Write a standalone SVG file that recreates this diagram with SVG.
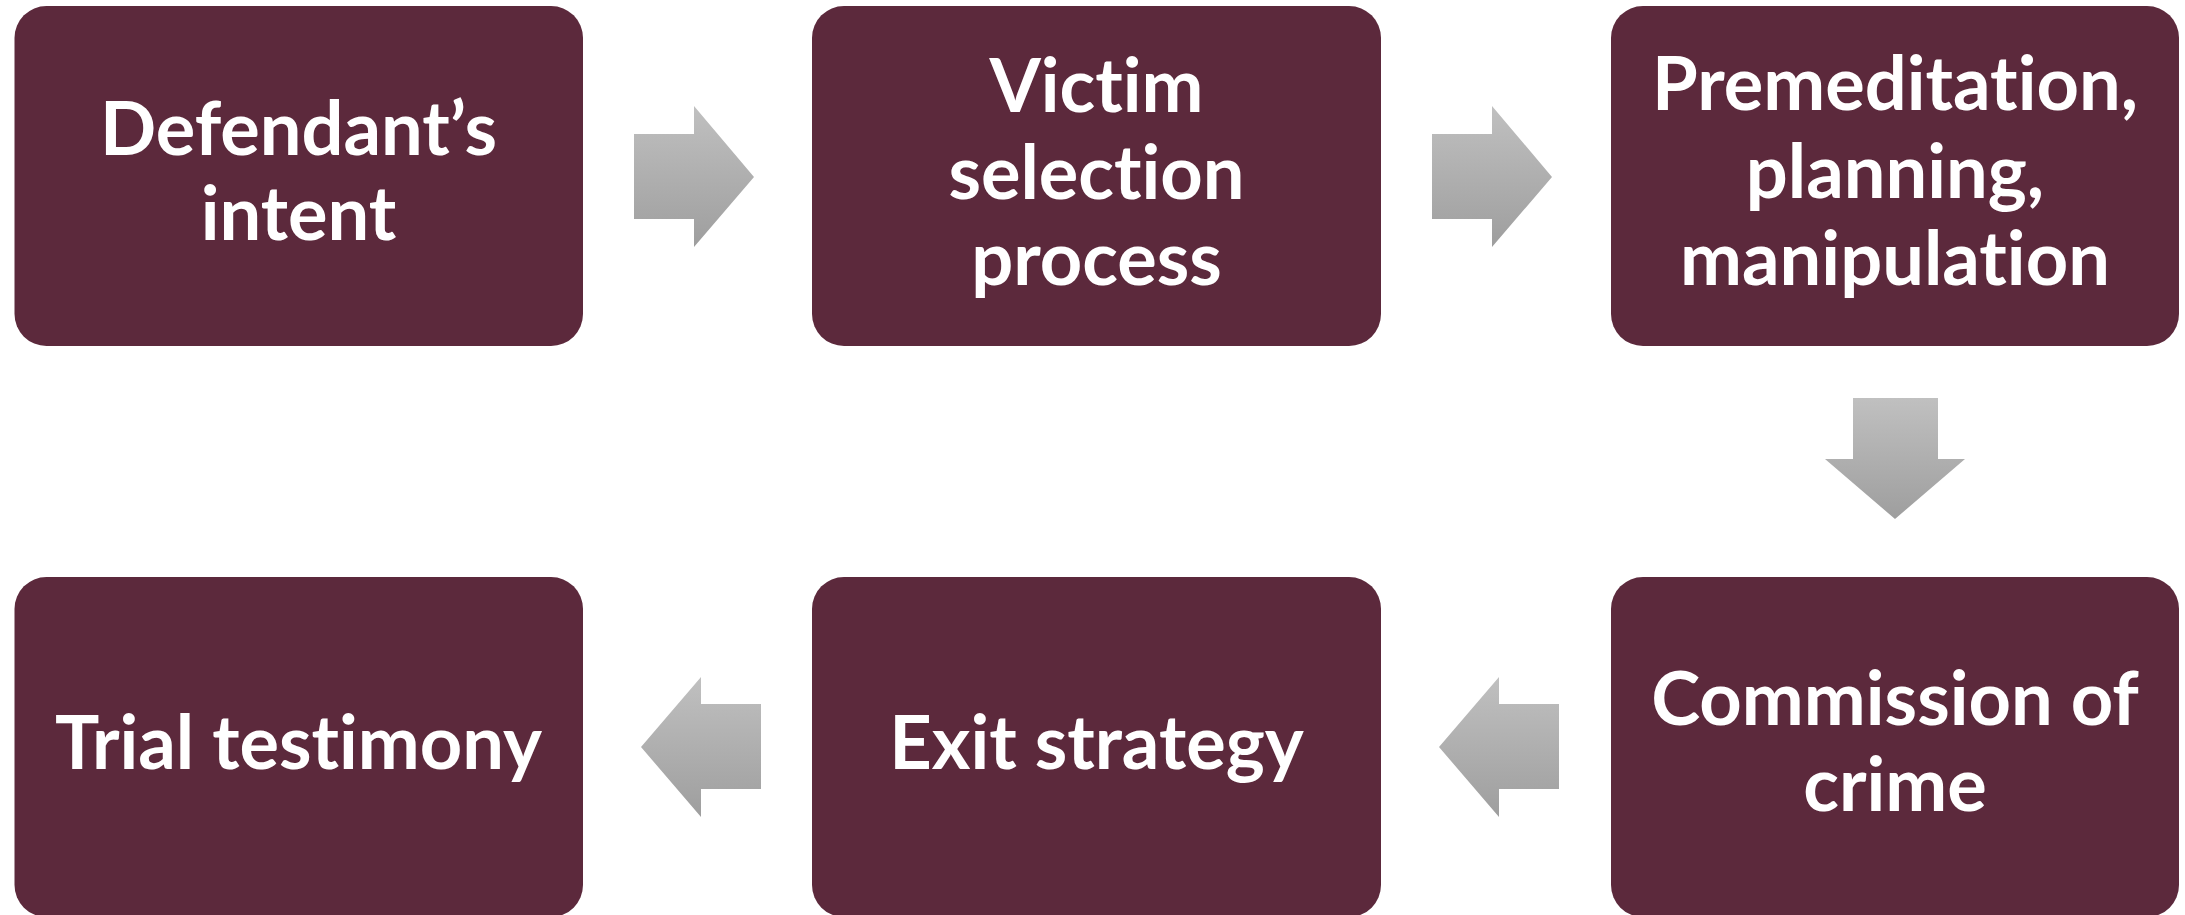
<svg xmlns="http://www.w3.org/2000/svg" width="2185" height="915" viewBox="0 0 2185 915">
<defs>
<linearGradient id="g" x1="0" y1="0" x2="0" y2="1">
<stop offset="0" stop-color="#c0c0c0"/>
<stop offset="1" stop-color="#9e9e9e"/>
</linearGradient>
<style>
.box{fill:#5c293c}
.t{fill:#ffffff;font-family:Lato,"Open Sans","Liberation Sans",sans-serif;font-weight:700;font-size:74px;text-anchor:middle;font-variant-ligatures:none;font-feature-settings:"liga" 0}
.arr{fill:url(#g)}
</style>
</defs>
<rect width="2185" height="915" fill="#ffffff"/>
<g id="connectors">
<polygon class="arr" points="634,134 694,134 694,106 754,177 694,247 694,219 634,219"/>
<polygon class="arr" points="1432,134 1492,134 1492,106 1552,177 1492,247 1492,219 1432,219"/>
<polygon class="arr" points="1853,398 1938,398 1938,459 1965,459 1895,519 1825,459 1853,459"/>
<polygon class="arr" points="1559,704 1499,704 1499,677 1439,747 1499,817 1499,789 1559,789"/>
<polygon class="arr" points="761,704 701,704 701,677 641,747 701,817 701,789 761,789"/>
</g>
<g id="n1"><rect class="box" x="14.5" y="6" width="568.5" height="340" rx="32"/>
<text class="t"><tspan x="298.5" y="155">Defendant’s</tspan><tspan x="298.5" y="240">intent</tspan></text></g>
<g id="n2"><rect class="box" x="812" y="6" width="569" height="340" rx="32"/>
<text class="t"><tspan x="1096.5" y="112">Victim</tspan><tspan x="1096.5" y="199">selection</tspan><tspan x="1096.5" y="285">process</tspan></text></g>
<g id="n3"><rect class="box" x="1611" y="6" width="568" height="340" rx="32"/>
<text class="t"><tspan x="1895" y="110">Premeditation,</tspan><tspan x="1895" y="198">planning,</tspan><tspan x="1895" y="285">manipulation</tspan></text></g>
<g id="n4"><rect class="box" x="1611" y="577" width="568" height="340" rx="32"/>
<text class="t"><tspan x="1895" y="725">Commission of</tspan><tspan x="1895" y="811">crime</tspan></text></g>
<g id="n5"><rect class="box" x="812" y="577" width="569" height="340" rx="32"/>
<text class="t" x="1096.5" y="769">Exit strategy</text></g>
<g id="n6"><rect class="box" x="14.5" y="577" width="568.5" height="340" rx="32"/>
<text class="t" x="298.5" y="769">Trial testimony</text></g>
</svg>
